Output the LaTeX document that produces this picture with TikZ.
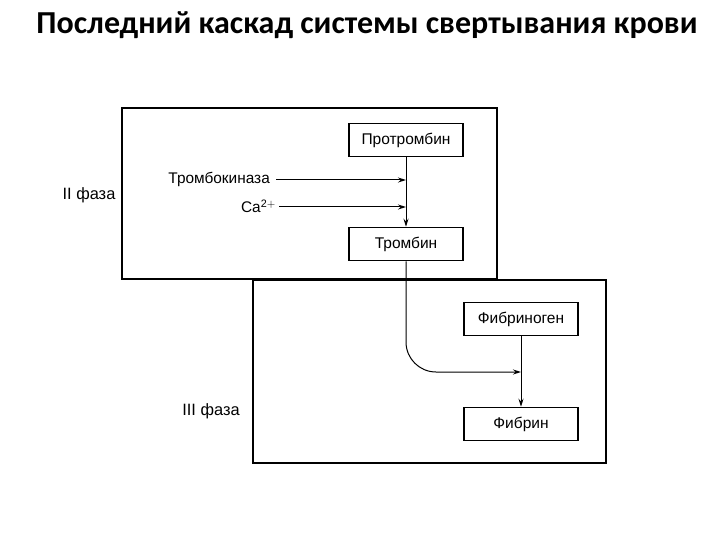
\documentclass[tikz,border=0pt]{standalone}
\usepackage{fontspec}
\setmainfont{Liberation Sans}
\newfontfamily\titlefont{Carlito}
\usetikzlibrary{arrows.meta}
\begin{document}
\begin{tikzpicture}[x=1pt,y=-1pt,
  phase/.style={draw, line width=1.3pt},
  stepbox/.style={draw, line width=1.5pt, minimum width=114pt, minimum height=33pt, inner sep=0pt, font=\fontsize{15.5}{18}\selectfont},
  lbl/.style={inner sep=0pt, font=\fontsize{15.4}{18}\selectfont},
  arr/.style={line width=1pt, -{Stealth[length=8pt,width=5pt]}}]
\useasboundingbox (0,0) rectangle (720,540);
\node[font=\titlefont\bfseries\fontsize{32}{38}\selectfont] (title) at (367,25) {Последний каскад системы свертывания крови};
% phase frames
\draw[phase] (253,280) rectangle (606,463);
\draw[phase] (122,108) rectangle (497,279);
\node[lbl, font=\fontsize{16.4}{19}\selectfont] (ph2) at (89,195) {II фаза};
\node[lbl, font=\fontsize{16.4}{19}\selectfont] (ph3) at (211,411) {III фаза};
% nodes
\node[stepbox] (prot) at (406,140) {Протромбин};
\node[stepbox] (tromb) at (406,244) {Тромбин};
\node[stepbox] (fibg) at (521,319) {Фибриноген};
\node[stepbox] (fib) at (521,424) {Фибрин};
\node[lbl, anchor=east] (tk) at (270,179) {Тромбокиназа};
\node[lbl, anchor=east] (ca) at (276,206) {Ca$^{\mathrm{2+}}$};
\coordinate (j1) at (406,180);
\coordinate (j2) at (406,207);
\coordinate (j3) at (521,372);
% connectors
\draw[arr] ([xshift=6pt,yshift=-1pt]tk.east) -- (j1);
\draw[arr] ([xshift=3pt,yshift=-1pt]ca.east) -- (j2);
\draw[arr] (prot) -- (tromb);
\draw[arr, rounded corners=30pt] (tromb.south) |- (j3);
\draw[arr] (fibg) -- (fib);
\end{tikzpicture}
\end{document}
